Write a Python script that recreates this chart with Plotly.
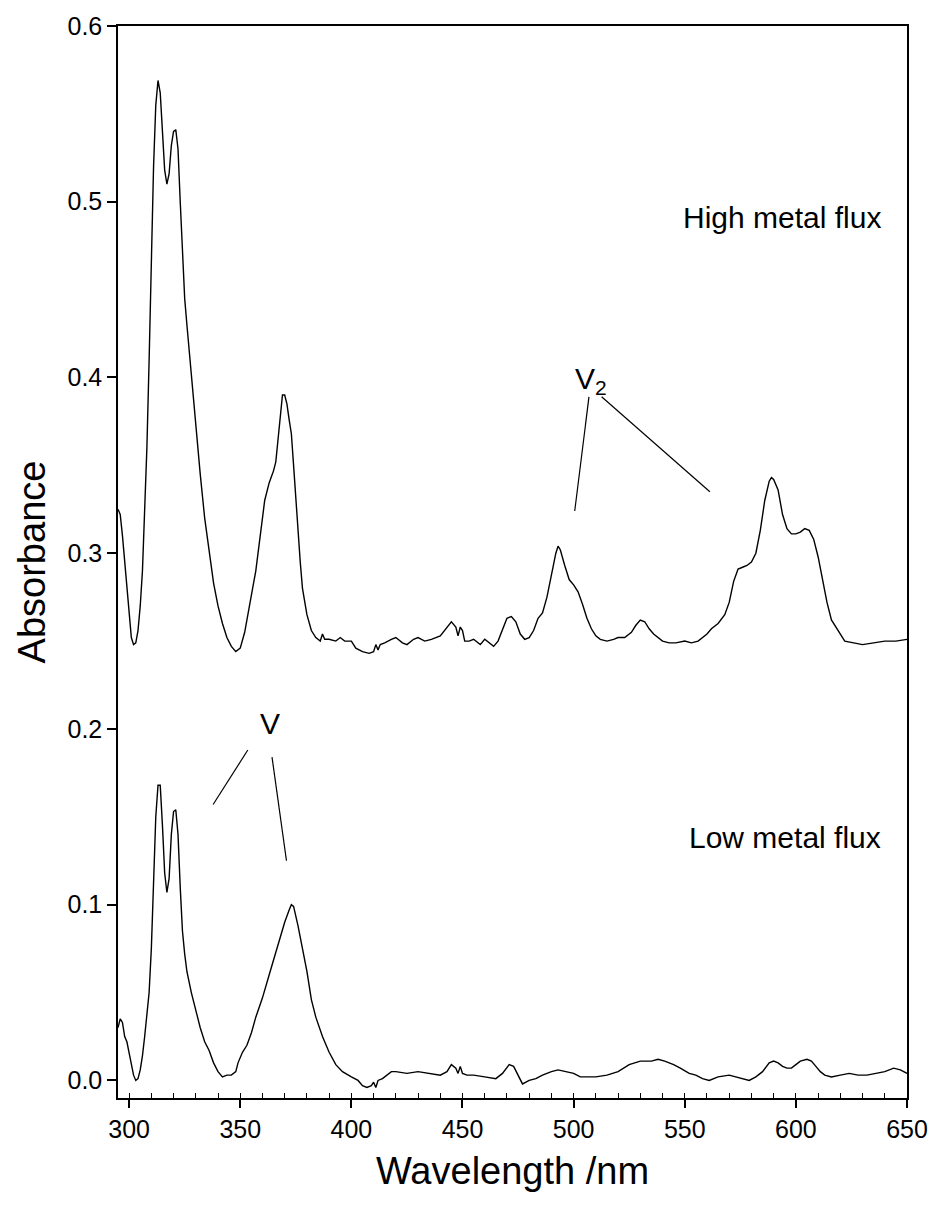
import plotly.graph_objects as go

# High metal flux spectrum (wavelength nm, absorbance)
high_wl = [295,296,297,298,299,300,301,302,303,304,305,306,307,308,309,310,311,312,313,314,315,316,317,318,319,320,321,322,323,324,325,326,327,328,329,330,332,334,336,338,340,342,344,346,348,350,352,354,355,357,359,361,363,365,366,367,368,369,370,371,372,373,374,375,376,377,378,380,382,384,386,387,388,390,393,395,397,400,402,405,408,410,411,412,413,415,418,420,423,425,428,430,433,436,440,443,445,447,448,449,450,451,453,455,458,460,462,464,466,468,470,472,474,476,478,480,482,484,486,488,490,492,493,494,496,498,500,502,504,506,508,510,512,515,518,520,523,526,528,530,532,534,536,538,540,543,546,550,553,556,558,560,562,565,568,570,572,574,576,578,580,582,584,586,588,589,590,592,594,596,598,600,602,604,606,608,610,612,614,616,618,620,622,626,630,635,640,645,650]
high_abs = [0.325,0.322,0.310,0.295,0.280,0.265,0.252,0.248,0.249,0.256,0.270,0.290,0.320,0.360,0.410,0.465,0.520,0.555,0.569,0.562,0.540,0.518,0.510,0.516,0.532,0.540,0.541,0.530,0.500,0.470,0.445,0.430,0.415,0.400,0.387,0.373,0.345,0.320,0.300,0.283,0.270,0.260,0.252,0.247,0.244,0.246,0.255,0.268,0.276,0.290,0.310,0.330,0.340,0.347,0.352,0.365,0.380,0.390,0.390,0.385,0.376,0.368,0.350,0.330,0.310,0.295,0.280,0.265,0.256,0.252,0.250,0.254,0.251,0.251,0.250,0.252,0.250,0.250,0.246,0.244,0.243,0.244,0.248,0.245,0.248,0.249,0.251,0.252,0.249,0.248,0.251,0.252,0.250,0.251,0.253,0.258,0.261,0.258,0.253,0.258,0.256,0.250,0.250,0.251,0.248,0.251,0.249,0.247,0.250,0.256,0.263,0.264,0.261,0.254,0.251,0.252,0.256,0.263,0.266,0.275,0.288,0.300,0.304,0.302,0.293,0.285,0.282,0.278,0.271,0.263,0.257,0.253,0.251,0.250,0.251,0.252,0.252,0.255,0.259,0.262,0.261,0.257,0.254,0.252,0.250,0.249,0.249,0.250,0.249,0.250,0.252,0.254,0.257,0.260,0.265,0.272,0.284,0.291,0.292,0.293,0.295,0.300,0.313,0.330,0.341,0.343,0.342,0.336,0.322,0.314,0.311,0.311,0.312,0.314,0.313,0.308,0.298,0.285,0.272,0.262,0.258,0.254,0.250,0.249,0.248,0.249,0.250,0.250,0.251]

# Low metal flux spectrum
low_wl = [295,296,297,298,299,300,301,302,303,304,305,306,307,308,309,310,311,312,313,314,315,316,317,318,319,320,321,322,323,324,325,326,328,330,332,334,336,338,340,342,344,346,348,349,351,353,355,357,360,363,366,368,370,372,373,374,376,378,380,382,384,387,390,393,396,400,403,405,407,409,410,411,412,414,416,418,420,425,430,435,440,443,445,447,448,449,450,452,455,460,465,468,471,473,475,477,480,483,486,490,493,496,500,503,506,510,515,520,525,530,535,538,541,545,548,552,555,558,561,565,570,573,576,579,582,585,588,590,592,594,596,598,600,602,605,607,609,611,613,616,620,624,628,632,636,640,644,647,650]
low_abs = [0.030,0.035,0.033,0.025,0.022,0.016,0.008,0.003,0.000,0.001,0.006,0.014,0.025,0.038,0.050,0.075,0.110,0.150,0.168,0.168,0.145,0.118,0.107,0.115,0.140,0.153,0.154,0.140,0.110,0.085,0.072,0.062,0.050,0.040,0.030,0.022,0.017,0.010,0.005,0.002,0.003,0.003,0.005,0.010,0.016,0.020,0.027,0.036,0.047,0.060,0.073,0.082,0.090,0.097,0.100,0.099,0.088,0.075,0.062,0.046,0.036,0.025,0.016,0.009,0.005,0.002,0.000,-0.003,-0.004,-0.003,-0.001,-0.004,0.000,0.001,0.003,0.005,0.005,0.004,0.005,0.004,0.003,0.005,0.009,0.007,0.004,0.008,0.004,0.003,0.003,0.002,0.001,0.004,0.009,0.008,0.003,-0.002,0.000,0.001,0.003,0.005,0.006,0.005,0.004,0.002,0.002,0.002,0.003,0.005,0.009,0.011,0.011,0.012,0.011,0.009,0.007,0.004,0.003,0.001,0.000,0.002,0.003,0.002,0.001,0.000,0.002,0.005,0.010,0.011,0.010,0.008,0.007,0.007,0.009,0.011,0.012,0.011,0.008,0.005,0.003,0.002,0.003,0.004,0.003,0.003,0.004,0.005,0.007,0.006,0.004]

x_ticks = [300, 350, 400, 450, 500, 550, 600, 650]
y_ticks = [0.0, 0.1, 0.2, 0.3, 0.4, 0.5, 0.6]

FONT = "Liberation Sans"

fig = go.Figure()
fig.add_trace(go.Scatter(x=high_wl, y=high_abs, mode="lines",
                         line=dict(color="black", width=1.4), showlegend=False))
fig.add_trace(go.Scatter(x=low_wl, y=low_abs, mode="lines",
                         line=dict(color="black", width=1.4), showlegend=False))

# pointer lines
lines = [
    (506.9, 0.389, 500.5, 0.324),
    (512.6, 0.389, 561.3, 0.335),
    (353.4, 0.188, 337.8, 0.157),
    (364.3, 0.184, 370.8, 0.125),
]
for x0, y0, x1, y1 in lines:
    fig.add_shape(type="line", x0=x0, y0=y0, x1=x1, y1=y1, xref="x", yref="y",
                  line=dict(color="black", width=1.2))

ann_font = dict(family=FONT, size=30, color="black")
fig.add_annotation(x=639, y=0.491, text="High metal flux", showarrow=False,
                   xanchor="right", yanchor="middle", font=ann_font)
fig.add_annotation(x=639, y=0.138, text="Low metal flux", showarrow=False,
                   xanchor="right", yanchor="middle", font=ann_font)
fig.add_annotation(x=508, y=0.398, text="V<sub>2</sub>", showarrow=False,
                   xanchor="center", yanchor="middle", font=ann_font)
fig.add_annotation(x=363.4, y=0.203, text="V", showarrow=False,
                   xanchor="center", yanchor="middle", font=ann_font)

fig.update_layout(
    width=940, height=1207,
    margin=dict(l=118, r=28, t=22, b=109),
    paper_bgcolor="white", plot_bgcolor="white",
    font=dict(family=FONT, color="black"),
)
fig.update_xaxes(
    range=[295, 650], tickvals=x_ticks, ticktext=[str(v) for v in x_ticks],
    showgrid=False, zeroline=False, showline=True, mirror=True,
    linecolor="black", linewidth=1.5,
    ticks="outside", ticklen=8, tickwidth=1.5, tickcolor="black",
    tickfont=dict(family=FONT, size=25),
    minor=dict(dtick=10, tick0=300, ticks="inside", ticklen=5, tickwidth=1.2, tickcolor="black", showgrid=False),
    title=dict(text="Wavelength /nm", font=dict(family=FONT, size=38), standoff=16),
)
fig.update_yaxes(
    range=[-0.01, 0.6], tickvals=y_ticks, ticktext=[f"{v:.1f}" for v in y_ticks],
    showgrid=False, zeroline=False, showline=True, mirror=True,
    linecolor="black", linewidth=1.5,
    ticks="outside", ticklen=9, tickwidth=1.5, tickcolor="black",
    tickfont=dict(family=FONT, size=25),
    title=dict(text="Absorbance", font=dict(family=FONT, size=38), standoff=10),
)

fig.write_html("out.html")
